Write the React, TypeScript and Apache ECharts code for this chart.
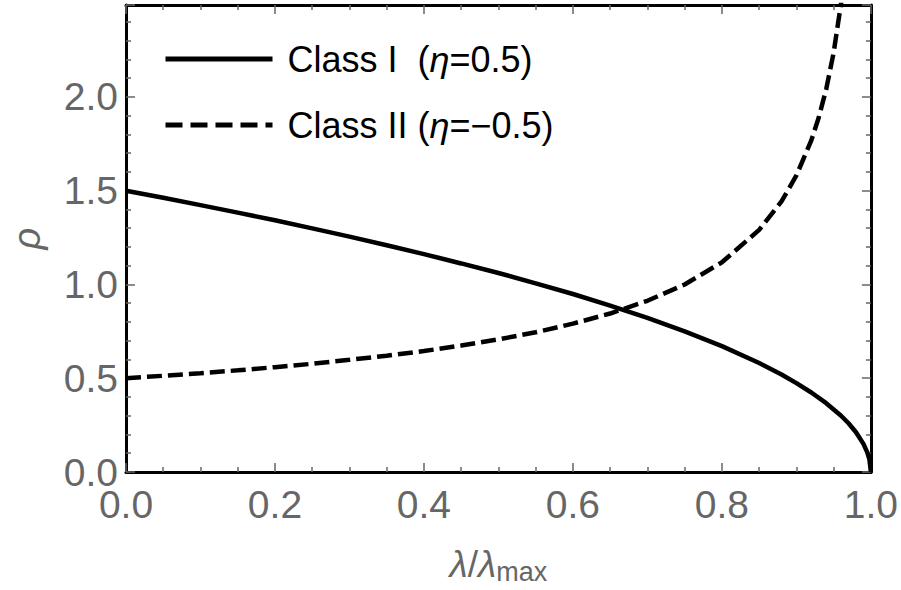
import React, { useEffect, useRef } from "react";
import * as echarts from "echarts";

const seriesNames = ["Class I  (η=0.5)", "Class II (η=−0.5)"];

const classIx = [0, 0.05, 0.1, 0.15, 0.2, 0.25, 0.3, 0.35, 0.4, 0.45, 0.5, 0.55, 0.6, 0.65, 0.7, 0.75, 0.8, 0.85, 0.88, 0.9, 0.92, 0.94, 0.96, 0.97, 0.98, 0.99, 0.995, 0.998, 1.0];
const classIy = [1.5, 1.462, 1.423, 1.383, 1.342, 1.299, 1.255, 1.209, 1.162, 1.112, 1.061, 1.006, 0.949, 0.887, 0.822, 0.75, 0.671, 0.581, 0.52, 0.474, 0.424, 0.367, 0.3, 0.26, 0.212, 0.15, 0.106, 0.067, 0.0];

const classIIx = [0, 0.05, 0.1, 0.15, 0.2, 0.25, 0.3, 0.35, 0.4, 0.45, 0.5, 0.55, 0.6, 0.65, 0.7, 0.75, 0.8, 0.85, 0.88, 0.9, 0.92, 0.93, 0.94, 0.95, 0.96, 0.97];
const classIIy = [0.5, 0.513, 0.527, 0.542, 0.559, 0.577, 0.598, 0.62, 0.645, 0.674, 0.707, 0.745, 0.791, 0.845, 0.913, 1.0, 1.118, 1.291, 1.443, 1.581, 1.768, 1.89, 2.041, 2.236, 2.5, 2.887];

const xRange = [0, 1];
const yRange = [0, 2.49];

const FONT = "Liberation Sans, Arial, Helvetica, sans-serif";
const GRAY = "#666666";

export default function App() {
  const ref = useRef<HTMLDivElement>(null);
  useEffect(() => {
    if (!ref.current) return;
    const chart = echarts.init(ref.current, undefined, { renderer: "svg" });
    const tickStyle = { color: GRAY, width: 1.5 };
    const frameLine = { show: true, onZero: false, lineStyle: { color: "#000", width: 3 } };
    const xBase = {
      type: "value" as const,
      min: xRange[0],
      max: xRange[1],
      interval: 0.2,
      axisLine: frameLine,
      axisTick: { show: true, inside: true, length: 9, lineStyle: tickStyle },
      minorTick: { show: true, splitNumber: 4, length: 5, lineStyle: tickStyle },
      splitLine: { show: false },
      minorSplitLine: { show: false },
    };
    const yBase = {
      type: "value" as const,
      min: yRange[0],
      max: yRange[1],
      interval: 0.5,
      axisLine: frameLine,
      axisTick: { show: true, inside: true, length: 9, lineStyle: tickStyle },
      minorTick: { show: true, splitNumber: 5, length: 5, lineStyle: tickStyle },
      splitLine: { show: false },
      minorSplitLine: { show: false },
    };
    const fmtLegend = (name: string) => {
      const parts = name.split("η");
      return `{a|${parts[0]}}{i|η}{a|${parts[1]}}`;
    };
    chart.setOption({
      animation: false,
      backgroundColor: "#ffffff",
      grid: { left: 117, right: 29, top: 5, bottom: 118, containLabel: false },
      legend: {
        orient: "vertical",
        left: 158,
        top: 36,
        itemWidth: 107,
        itemHeight: 30,
        itemGap: 30,
        itemStyle: { opacity: 0 },
        lineStyle: { width: 5 },
        data: [
          { name: seriesNames[0] },
          { name: seriesNames[1], lineStyle: { width: 5, type: [17, 8] } },
        ],
        formatter: fmtLegend,
        textStyle: {
          fontFamily: FONT,
          fontSize: 36,
          color: "#000",
          padding: [0, 0, 0, 10],
          rich: {
            a: { fontFamily: FONT, fontSize: 36, color: "#000", lineHeight: 36 },
            i: { fontFamily: FONT, fontSize: 36, color: "#000", fontStyle: "italic", lineHeight: 36 },
          },
        },
      },
      xAxis: [
        {
          ...xBase,
          position: "bottom",
          name: "{i|λ}{n|/}{i|λ}{s|max}",
          nameLocation: "middle",
          nameGap: 72,
          nameTextStyle: {
            rich: {
              i: { fontFamily: FONT, fontSize: 37, fontStyle: "italic", color: GRAY },
              n: { fontFamily: FONT, fontSize: 37, color: GRAY },
              s: { fontFamily: FONT, fontSize: 27, color: GRAY, verticalAlign: "bottom", padding: [14, 0, 0, 0] },
            },
          },
          axisLabel: {
            fontFamily: FONT,
            fontSize: 39,
            color: GRAY,
            margin: 13,
            formatter: (v: number) => v.toFixed(1),
          },
        },
        {
          ...xBase,
          position: "top",
          axisLabel: { show: false },
        },
      ],
      yAxis: [
        {
          ...yBase,
          position: "left",
          name: "ρ",
          nameLocation: "middle",
          nameRotate: 90,
          nameGap: 80,
          nameTextStyle: { fontFamily: FONT, fontSize: 38, fontStyle: "italic", color: GRAY },
          axisLabel: {
            fontFamily: FONT,
            fontSize: 39,
            color: GRAY,
            margin: 8,
            showMaxLabel: false,
            formatter: (v: number) => v.toFixed(1),
          },
        },
        {
          ...yBase,
          position: "right",
          axisLabel: { show: false },
        },
      ],
      series: [
        {
          name: seriesNames[0],
          type: "line",
          symbol: "none",
          showSymbol: false,
          clip: true,
          data: classIx.map((x, i) => [x, classIy[i]]),
          lineStyle: { color: "#000", width: 4.5, type: "solid" },
          itemStyle: { color: "#000" },
        },
        {
          name: seriesNames[1],
          type: "line",
          symbol: "none",
          showSymbol: false,
          clip: true,
          data: classIIx.map((x, i) => [x, classIIy[i]]),
          lineStyle: { color: "#000", width: 4.5, type: [15, 6] },
          itemStyle: { color: "#000" },
        },
      ],
    });
    return () => chart.dispose();
  }, []);
  return (
    <div
      ref={ref}
      style={{ position: "fixed", left: 0, top: 0, width: 901, height: 590, background: "#fff" }}
    />
  );
}
